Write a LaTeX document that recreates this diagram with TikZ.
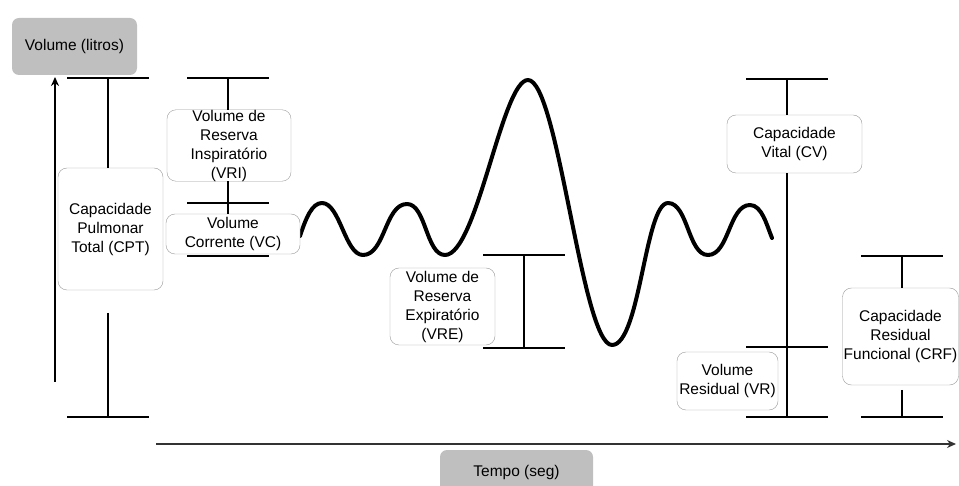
\documentclass[tikz,border=0pt]{standalone}
\usepackage{fontspec}
\setmainfont{Liberation Sans}
\usetikzlibrary{calc,arrows.meta,positioning}

\definecolor{labgray}{RGB}{191,191,191}

\begin{document}
\begin{tikzpicture}[x=1pt,y=-1pt]

\tikzset{
box/.style={draw=black!40,fill=white,rounded corners=9pt,align=center,inner sep=0pt,font=\fontsize{15.5}{19}\selectfont},
axislab/.style={fill=labgray,rounded corners=7pt,align=center,inner sep=0pt,font=\fontsize{15.5}{19}\selectfont},
bar/.style={line width=1.5pt,draw=black},
axis/.style={-{Stealth[length=9pt,width=8pt]},line width=2pt},
breath/.style={line width=4pt,line join=round,line cap=round}
}

\useasboundingbox (0,0) rectangle (959,486);

% Points
\coordinate (barw) at (41,0);

\coordinate (yorig) at (55,382);
\coordinate (ytip) at (55,77);
\coordinate (xorig) at (156,444);
\coordinate (xtip) at (956,444);

\coordinate (cpttop) at (108,78);
\coordinate (cptgap) at (108,313);
\coordinate (cptbot) at (108,417);

\coordinate (vritop) at (228,78);
\coordinate (vrimid) at (228,203);
\coordinate (vcbot) at (228,256);

\coordinate (vretop) at (524,255);
\coordinate (vrebot) at (524,348);

\coordinate (cvtop) at (787,79);
\coordinate (vrtop) at (787,347);
\coordinate (cvbot) at (787,417);

\coordinate (crftop) at (902,256);
\coordinate (crfgap) at (902,390);
\coordinate (crfbot) at (902,417);


% Bars
\foreach \p in {cpttop,cptbot,vritop,vrimid,vcbot,vretop,vrebot,cvtop,vrtop,cvbot,crftop,crfbot}
  \draw[bar] ($(\p)-(barw)$) -- ($(\p)+(barw)$);


% Axes
\draw[axis] (yorig) -- (ytip);
\draw[axis,black!80] (xorig) -- (xtip);


% Breathing curve
\draw[breath] (300,236) .. controls (306,218) and (312,203) .. (322,203)
  .. controls (340,203) and (345,255) .. (363,255)
  .. controls (385,255) and (385,204) .. (407,204)
  .. controls (426,204) and (426,255) .. (445,255)
  .. controls (477,255) and (502,80) .. (528,80)
  .. controls (558,80) and (582,345) .. (612,345)
  .. controls (640,345) and (645,203) .. (668,203)
  .. controls (688,203) and (688,255) .. (708,255)
  .. controls (729,255) and (729,205) .. (750,205)
  .. controls (762,205) and (767,226) .. (772,238);


% Labels
\node[axislab,minimum width=125pt,minimum height=57pt] (vol) at (74.5,46.5) {Volume (litros)};
\node[axislab,minimum width=153pt,minimum height=44pt] (tempo) at (516.5,472) {Tempo (seg)};

\node[box,minimum width=105pt,minimum height=122pt] (cpt) at (110.5,229) {Capacidade\\Pulmonar\\Total (CPT)};
\node[box,minimum width=124pt,minimum height=71pt] (vri) at (229,145.5) {Volume de\\Reserva\\Inspiratório\\(VRI)};
\node[box,minimum width=134pt,minimum height=40pt] (vc) at (233,234) {Volume\\Corrente (VC)};
\node[box,minimum width=105pt,minimum height=77pt] (vre) at (442.5,306.5) {Volume de\\Reserva\\Expiratório\\(VRE)};
\node[box,minimum width=135pt,minimum height=58pt] (cv) at (794.5,144) {Capacidade\\Vital (CV)};
\node[box,minimum width=101pt,minimum height=58pt] (vr) at (727.5,381) {Volume\\Residual (VR)};
\node[box,minimum width=116pt,minimum height=97pt] (crf) at (900.5,336.5) {Capacidade\\Residual\\Funcional (CRF)};


% Brackets
\draw[bar] (cpttop) -- (cpt.north -| cpttop);
\draw[bar] (cptgap) -- (cptbot);

\draw[bar] (vritop) -- (vri.north -| vritop);
\draw[bar] (vri.south -| vrimid) -- (vrimid) -- (vc.north -| vrimid);

\draw[bar] (vretop) -- (vrebot);

\draw[bar] (cvtop) -- (cv.north -| cvtop);
\draw[bar] (cv.south -| cvtop) -- (cvbot);

\draw[bar] (crftop) -- (crf.north -| crftop);
\draw[bar] (crfgap) -- (crfbot);

\end{tikzpicture}
\end{document}
